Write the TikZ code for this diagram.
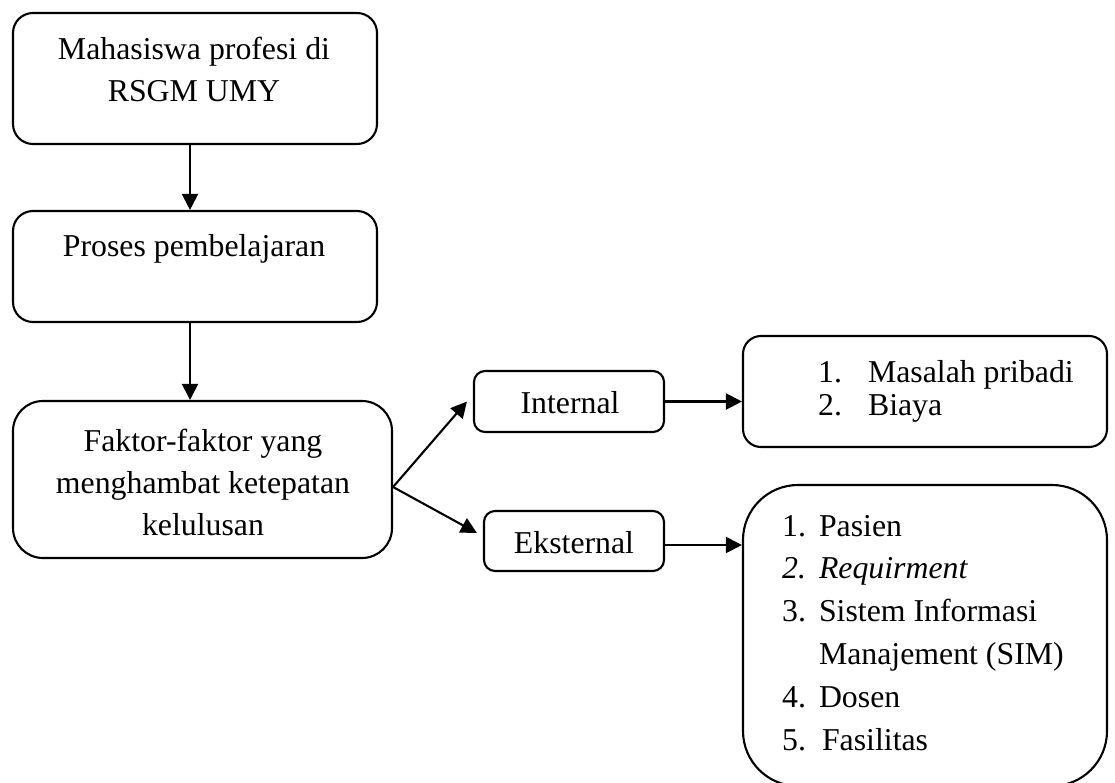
\documentclass[tikz,border=0pt]{standalone}
\usepackage{fontspec}
\setmainfont{Liberation Serif}
\usetikzlibrary{arrows.meta}
\begin{document}
\begin{tikzpicture}[x=1pt,y=-1pt,
  box/.style={draw, line width=2.1pt, rounded corners=#1, inner sep=0pt},
  box/.default=20pt,
  txt/.style={inner sep=0pt, anchor=base, font=\fontsize{31.8}{42}\selectfont},
  arr/.style={line width=2.1pt, -{Triangle[length=16pt,width=16pt]}}]
\useasboundingbox (0,0) rectangle (1115,783);

% boxes
\node[box, minimum width=364pt, minimum height=131pt] (b1) at (195,78.5) {};
\node[box, minimum width=364pt, minimum height=111pt] (b2) at (195,266.5) {};
\node[box=30pt, minimum width=379pt, minimum height=157pt] (b3) at (202.5,479.5) {};
\node[box=11pt, minimum width=190pt, minimum height=61pt] (int) at (569,401.5) {};
\node[box=11pt, minimum width=180pt, minimum height=60pt] (eks) at (574,541) {};
\node[box=18pt, minimum width=364pt, minimum height=111pt] (r1) at (925,391.5) {};
\node[box=55pt, minimum width=364pt, minimum height=301pt] (r2) at (925,635.5) {};

% texts
\node[txt] (t1) at (194,60) {\begin{tabular}[t]{@{}c@{}}Mahasiswa profesi di\\ RSGM UMY\end{tabular}};
\node[txt] (t2) at (194,257) {Proses pembelajaran};
\node[txt] (t3) at (203,451) {\begin{tabular}[t]{@{}c@{}}Faktor-faktor yang\\ menghambat ketepatan\\ kelulusan\end{tabular}};
\node[txt] (t4) at (570,413) {Internal};
\node[txt] (t5) at (574,553) {Eksternal};
\node[txt, anchor=base west, font=\fontsize{31.8}{33.5}\selectfont] (t6) at (818,382)
  {\begin{tabular}[t]{@{}l@{\hspace{26pt}}l@{}}1. & Masalah pribadi\\ 2. & Biaya\end{tabular}};
\node[txt, anchor=base west, font=\fontsize{31.8}{42.8}\selectfont] (t7) at (782,536)
  {\begin{tabular}[t]{@{}l@{\hspace{13pt}}l@{}}1. & Pasien\\ \textit{2.} & \textit{Requirment}\\ 3. & Sistem Informasi\\ & Manajement (SIM)\\ 4. & Dosen\\ 5. & \hspace{3pt}Fasilitas\end{tabular}};

% connectors
\draw[arr] ([xshift=-5pt]b1.south) -- ([xshift=-5pt]b2.north);
\draw[arr] ([xshift=-12.5pt]b3.north |- b2.south) -- ([xshift=-12.5pt]b3.north);
\draw[arr] ([yshift=-7.5pt]b3.east) -- ([xshift=-6pt]int.west);
\draw[arr] ([yshift=-7.5pt]b3.east) -- ([xshift=-6pt,yshift=8pt]eks.west);
\draw[arr] (int.east) -- (int.east -| r1.west);
\draw[arr] ([yshift=-4pt]eks.east) -- ([yshift=-4pt]eks.east -| r2.west);
\end{tikzpicture}
\end{document}
